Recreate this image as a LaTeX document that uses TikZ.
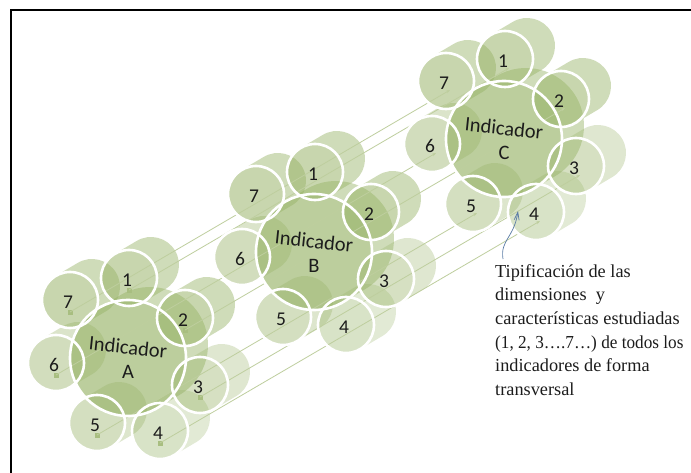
\documentclass[tikz,border=0pt]{standalone}
\usepackage{fontspec}
\newfontfamily\calfont{Carlito}
\newfontfamily\serfont{Liberation Serif}
\usetikzlibrary{arrows.meta}
\definecolor{cylgreen}{RGB}{150,178,100}
\definecolor{linegreen}{RGB}{190,206,158}
\definecolor{markgreen}{RGB}{168,190,128}
\definecolor{notecol}{RGB}{88,122,165}
\definecolor{txtcol}{RGB}{28,28,28}
\begin{document}
\begin{tikzpicture}[x=1pt,y=-1pt,
  cyl/.style={draw=cylgreen, line width=56pt, line cap=round, draw opacity=#1},
  bigcyl/.style={draw=cylgreen, line width=116pt, line cap=round, draw opacity=#1},
  rim/.style={draw=white, line width=2.6pt},
  conn/.style={draw=linegreen, line width=0.8pt, -{Stealth[length=4pt,width=3pt]}},
  markbox/.style={fill=markgreen, minimum size=5pt, inner sep=0pt},
  numlab/.style={font=\calfont\fontsize{19.5}{19.5}\selectfont, text=txtcol, inner sep=0pt},
  indlab/.style={font=\calfont\fontsize{20.5}{20.5}\selectfont, text=txtcol, inner sep=0pt},
  notetext/.style={font=\serfont\fontsize{18.3}{23.7}\selectfont, text=txtcol, anchor=base west, inner sep=0pt},
  notearrow/.style={draw=notecol, line width=0.7pt, -{Straight Barb[length=8pt,width=5pt]}}
]
\useasboundingbox (0,0) rectangle (691,473);
\fill[white] (0,0) rectangle (691,473);
% frame
\draw[line width=2pt] (11,473) -- (11,10) -- (691,10);

% coordinates
\foreach \cl/\cx/\cy in {A/128/358, B/314/252, C/504/139} {
  \coordinate (\cl c) at (\cx,\cy);
  \coordinate (\cl i) at (\cx,\cy-11);
  \coordinate (\cl j) at (\cx,\cy+14);
  \foreach \k/\dx/\dy in {1/-1/-78, 2/55/-38, 3/70/29, 4/30/75, 5/-33/67, 6/-74/7, 7/-60/-56} {
    \coordinate (\cl\k) at (\cx+\dx+2,\cy+\dy-2);
    \coordinate (\cl\k l) at (\cx+\dx,\cy+\dy);
    \coordinate (\cl\k s) at (\cx+\dx+2,\cy+\dy+10);
    \coordinate (\cl\k e) at (\cx+\dx+6,\cy+\dy+7);
  }
}

% central cylinders
\foreach \cl in {C,B,A} {
  \draw[bigcyl=0.45] (\cl c) -- ++(22,-13);
  \fill[cylgreen, fill opacity=0.32] (\cl c) circle[radius=58pt];
}
% small cylinders
\foreach \cl in {C,B,A} {
  \foreach \k/\op in {1/0.45,2/0.45,7/0.45,6/0.34,5/0.32,4/0.27,3/0.3} {
    \draw[cyl=\op] (\cl\k) -- ++(22,-13);
    \fill[cylgreen, fill opacity=0.12] (\cl\k) circle[radius=28pt];
  }
}
% connectors
\foreach \k in {1,...,7} {
  \node[markbox] (mk\k) at (A\k s) {};
  \draw[conn] (mk\k.center) -- (C\k e);
}
% white rims
\foreach \cl in {C,B,A} {
  \draw[rim] (\cl c) circle[radius=58pt];
  \foreach \k in {1,...,7} {
    \draw[rim] (\cl\k) circle[radius=28pt];
  }
}
% labels
\foreach \cl in {A,B,C} {
  \foreach \k in {1,...,7} {
    \node[numlab] (\cl n\k) at (\cl\k l) {\k};
  }
  \node[indlab, rotate=-6] (\cl ind) at (\cl i) {Indicador};
  \node[indlab] (\cl let) at (\cl j) {\cl};
}

% note
\node[notetext] (t1) at (495,277) {Tipificación de las};
\node[notetext] (t2) at (495,300.7) {dimensiones~ y};
\node[notetext] (t3) at (495,324.4) {características estudiadas};
\node[notetext] (t4) at (495,348.1) {\addfontfeature{FakeStretch=0.94}(1, 2, 3….7…) de todos los};
\node[notetext] (t5) at (495,371.8) {indicadores de forma};
\node[notetext] (t6) at (495,395.5) {transversal};
\coordinate (ntail) at (503,259);
\coordinate (nhead) at (518,211);
\draw[notearrow] (ntail) .. controls (500,240) and (514,238) .. (nhead);
\end{tikzpicture}
\end{document}
